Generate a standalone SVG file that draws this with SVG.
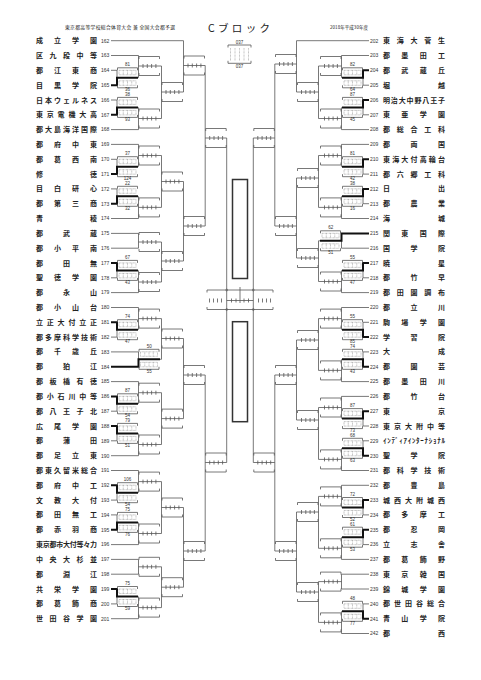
<svg xmlns="http://www.w3.org/2000/svg" xmlns:xlink="http://www.w3.org/1999/xlink" width="481" height="680" viewBox="0 0 481 680">
<defs>
<style>
.ln{fill:none;stroke:#555;stroke-width:.8}
.th{fill:none;stroke:#111;stroke-width:2}
.dt{fill:none;stroke:#777;stroke-width:.5;stroke-dasharray:.8 .6}
.nm{font-family:"Noto Sans CJK JP",sans-serif;font-size:7px;font-weight:bold;fill:#222}
.no{font-family:"Liberation Sans",sans-serif;font-size:5px;fill:#333}
.sc{font-family:"Liberation Sans",sans-serif;font-size:4.5px;fill:#333;text-anchor:middle}
.hd{font-family:"Noto Sans CJK JP",sans-serif;fill:#222}
</style>
<path id="pb" class="ln" d="M0.5,-9.5H21M0.5,-9.5v2.5M21,-9.5v2.5M0.5,9.5H21M0.5,9.5v-2.5M21,9.5v-2.5M4.5,-2v4M8.8,-2v4M13.1,-2v4M17.4,-2v4"/>
<g id="sb"><path class="ln" d="M0.5,-10H20.5M0.5,-10v2.5M20.5,-10v2.5M0.5,10H20.5M0.5,10v-2.5M20.5,10v-2.5"/><path class="dt" d="M2,-7.5H19V-3H2ZM6.25,-7.5V-3M10.5,-7.5V-3M14.75,-7.5V-3M2,3H19V7.5H2ZM6.25,3V7.5M10.5,3V7.5M14.75,3V7.5"/></g>
</defs>
<rect width="481" height="680" fill="#fff"/>

<g id="header">
<text class="hd" x="65" y="29" font-size="4.8" textLength="110">東京都高等学校総合体育大会 兼 全国大会都予選</text>
<text class="hd" x="208" y="31.5" font-size="10.5" textLength="62">Cブロック</text>
<text class="hd" x="330" y="29" font-size="4.5" textLength="38">2018年平成30年度</text>
</g>

<g id="legend">
<path class="ln" d="M228,45H251M228,45v2.5M251,45v2.5M228,63.3H251M228,63.3v-2.5M251,63.3v-2.5"/>
<path class="dt" d="M230.5,48V61M235,48V61M239.5,48V61M244,48V61M248.5,48V61"/>
<text class="sc" x="239.5" y="43.5" font-size="3.5">037</text>
<text class="sc" x="239.5" y="67.5" font-size="3.5">037</text>
</g>

<g id="center">
<rect x="232.5" y="179.5" width="15" height="99" fill="none" stroke="#333" stroke-width="1.5"/>
<rect x="232.5" y="321.7" width="15" height="100" fill="none" stroke="#333" stroke-width="1.5"/>
<path class="ln" d="M207,290H273M207,290v2.5M273,290v2.5M207,309.5H273M207,309.5v-2.5M273,309.5v-2.5M209.5,298.5v4M213.5,298.5v4M217.5,298.5v4M221.5,298.5v4M258.5,298.5v4M262.5,298.5v4M266.5,298.5v4M270.5,298.5v4M231.5,298.5v4M236,298.5v4M244,298.5v4M248.5,298.5v4M240,287V303"/>
<g fill="none" stroke="#555" stroke-width=".6"><circle cx="226.7" cy="290" r="1"/><circle cx="226.7" cy="309.5" r="1"/><circle cx="253.3" cy="290" r="1"/><circle cx="253.3" cy="309.5" r="1"/></g>
</g>

<g id="connectors">
<path class="ln" d="M111,40.7H183.5M111,55.5H138.5M111,70.3H117M111,100H117M111,129.6H138.5M111,144.4H138.5M111,159.3H117M111,188.9H117M111,218.5H138.5M111,233.4H138.5M111,248.2H138.5M111,277.8H117M111,292.6H138.5M111,307.5H138.5M111,337.1H117M111,351.9H138.5M111,381.6H138.5M111,411.2H117M111,440.8H117M111,455.7H138.5M111,470.5H138.5M111,500.1H117M111,514.9H117M111,544.6H138.5M111,559.4H138.5M111,574.2H138.5M111,603.9H117M111,618.7H138.5"/>
<path class="ln" d="M117,70.3V85.2M117,100V114.8M117,159.3V174.1M117,188.9V203.7M117,263V277.8M117,322.3V337.1M117,396.4V411.2M117,426V440.8M117,485.3V500.1M117,514.9V529.8M117,589V603.9"/>
<path class="ln" d="M138.5,55.5V77.8M138.5,66H161.5M138.5,107.4V129.6M138.5,118.5H161.5M138.5,144.4V166.7M138.5,155.5H161.5M138.5,196.3V218.5M138.5,207.4H161.5M138.5,233.4V248.2M138.5,242H161.5M138.5,270.4V292.6M138.5,282H161.5M138.5,307.5V329.7M138.5,318.6H161.5M138.5,351.9V366.7M160,359.3H161.5M138.5,381.6V403.8M138.5,392.7H161.5M138.5,433.4V455.7M138.5,444.5H161.5M138.5,470.5V492.7M138.5,481.6H161.5M138.5,522.4V544.6M138.5,533.5H161.5M138.5,559.4V574.2M138.5,566.8H161.5M138.5,596.5V618.7M138.5,607.6H161.5"/>
<path class="ln" d="M161.5,66V118.5M161.5,92H183.5M161.5,155.5V207.4M161.5,181.5H183.5M161.5,242V282M161.5,261H183.5M161.5,318.6V359.3M161.5,338.5H183.5M161.5,392.7V444.5M161.5,418.6H183.5M161.5,481.6V533.5M161.5,507.5H183.5M161.5,566.8V607.6M161.5,587.2H183.5"/>
<path class="ln" d="M183.5,40.7V92M183.5,65.5H205.2M183.5,181.5V261M183.5,226H205.2M183.5,338.5V418.6M183.5,375H205.2M183.5,507.5V587.2M183.5,551H205.2M205.2,65.5V226M205.2,138H226.7M205.2,375V551M205.2,462.5H226.7"/>
<path class="ln" d="M226.7,138V462.5M253.3,138V462.5M226.7,300.5H253.3"/>
<path class="th" d="M111,85.2H117V77.8H138M111,114.8H117V107.4H138M111,174.1H117V166.7H138M111,203.7H117V196.3H138M111,263H117V270.4H138M111,322.3H117V329.7H138M111,396.4H117V403.8H138M111,426H117V433.4H138M111,485.3H117V492.7H138M111,529.8H117V522.4H138M111,589H117V596.5H138M111,366.7H138.5V359.3H160"/>

<path class="ln" d="M369,40.7H296.5M369,55.5H341.5M369,85.2H363M369,114.8H363M369,129.6H341.5M369,144.4H341.5M369,174.1H363M369,203.7H363M369,218.5H341.5M369,248.2H341.5M369,277.8H363M369,292.6H341.5M369,307.5H341.5M369,322.3H363M369,351.9H363M369,381.6H341.5M369,396.4H341.5M369,426H363M369,440.8H363M369,470.5H341.5M369,485.3H341.5M369,514.9H363M369,544.6H363M369,559.4H341.5M369,574.2H341.5M369,589H341.5M369,603.9H363M369,633.5H341.5"/>
<path class="ln" d="M363,70.3V85.2M363,100V114.8M363,159.3V174.1M363,188.9V203.7M363,263V277.8M363,322.3V337.1M363,351.9V366.7M363,411.2V426M363,440.8V455.7M363,500.1V514.9M363,529.8V544.6M363,603.9V618.7"/>
<path class="ln" d="M341.5,55.5V77.8M341.5,66H318.5M341.5,107.4V129.6M341.5,118.5H318.5M341.5,144.4V166.7M341.5,155.5H318.5M341.5,196.3V218.5M341.5,207.4H318.5M341.5,233.4V248.2M320,240.8H318.5M341.5,270.4V292.6M341.5,281.5H318.5M341.5,307.5V329.7M341.5,318.6H318.5M341.5,359.3V381.6M341.5,370.4H318.5M341.5,396.4V418.6M341.5,407.5H318.5M341.5,448.3V470.5M341.5,459.4H318.5M341.5,485.3V507.5M341.5,496.4H318.5M341.5,537.2V559.4M341.5,548.3H318.5M341.5,574.2V589M341.5,581.6H318.5M341.5,611.3V633.5M341.5,622.4H318.5"/>
<path class="ln" d="M318.5,66V118.5M318.5,92H296.5M318.5,155.5V207.4M318.5,178H296.5M318.5,240.8V281.5M318.5,258H296.5M318.5,318.6V370.4M318.5,340H296.5M318.5,407.5V459.4M318.5,420H296.5M318.5,496.4V548.3M318.5,512H296.5M318.5,581.6V622.4M318.5,592H296.5"/>
<path class="ln" d="M296.5,40.7V92M296.5,64H274.8M296.5,178V258M296.5,226H274.8M296.5,340V420M296.5,375H274.8M296.5,512V592M296.5,551H274.8M274.8,64V226M274.8,138H253.3M274.8,375V551M274.8,462.5H253.3"/>
<path class="th" d="M369,70.3H363V77.8H342M369,100H363V107.4H342M369,159.3H363V166.7H342M369,188.9H363V196.3H342M369,263H363V270.4H342M369,337.1H363V329.7H342M369,366.7H363V359.3H342M369,411.2H363V418.6H342M369,455.7H363V448.3H342M369,500.1H363V507.5H342M369,529.8H363V537.2H342M369,618.7H363V611.3H342M369,233.4H341.5V240.8H320"/>
</g>

<g id="boxes">
<use xlink:href="#pb" x="138.5" y="66"/><use xlink:href="#pb" x="138.5" y="118.5"/><use xlink:href="#pb" x="138.5" y="155.5"/><use xlink:href="#pb" x="138.5" y="207.4"/><use xlink:href="#pb" x="138.5" y="242"/><use xlink:href="#pb" x="138.5" y="282"/><use xlink:href="#pb" x="138.5" y="318.6"/><use xlink:href="#pb" x="138.5" y="392.7"/><use xlink:href="#pb" x="138.5" y="444.5"/><use xlink:href="#pb" x="138.5" y="481.6"/><use xlink:href="#pb" x="138.5" y="533.5"/><use xlink:href="#pb" x="138.5" y="566.8"/><use xlink:href="#pb" x="138.5" y="607.6"/>
<use xlink:href="#pb" x="161.5" y="92"/><use xlink:href="#pb" x="161.5" y="181.5"/><use xlink:href="#pb" x="161.5" y="261"/><use xlink:href="#pb" x="161.5" y="338.5"/><use xlink:href="#pb" x="161.5" y="418.6"/><use xlink:href="#pb" x="161.5" y="507.5"/><use xlink:href="#pb" x="161.5" y="587.2"/>
<use xlink:href="#pb" x="183.5" y="65.5"/><use xlink:href="#pb" x="183.5" y="226"/><use xlink:href="#pb" x="183.5" y="375"/><use xlink:href="#pb" x="183.5" y="551"/>
<use xlink:href="#pb" x="205.2" y="138"/><use xlink:href="#pb" x="205.2" y="462.5"/>
<use xlink:href="#sb" x="117" y="77.8"/><use xlink:href="#sb" x="117" y="107.4"/><use xlink:href="#sb" x="117" y="166.7"/><use xlink:href="#sb" x="117" y="196.3"/><use xlink:href="#sb" x="117" y="270.4"/><use xlink:href="#sb" x="117" y="329.7"/><use xlink:href="#sb" x="117" y="403.8"/><use xlink:href="#sb" x="117" y="433.4"/><use xlink:href="#sb" x="117" y="492.7"/><use xlink:href="#sb" x="117" y="522.4"/><use xlink:href="#sb" x="117" y="596.5"/><use xlink:href="#sb" x="138.5" y="359.3"/>

<use xlink:href="#pb" x="320" y="66"/><use xlink:href="#pb" x="320" y="118.5"/><use xlink:href="#pb" x="320" y="155.5"/><use xlink:href="#pb" x="320" y="207.4"/><use xlink:href="#pb" x="320" y="281.5"/><use xlink:href="#pb" x="320" y="318.6"/><use xlink:href="#pb" x="320" y="370.4"/><use xlink:href="#pb" x="320" y="407.5"/><use xlink:href="#pb" x="320" y="459.4"/><use xlink:href="#pb" x="320" y="496.4"/><use xlink:href="#pb" x="320" y="548.3"/><use xlink:href="#pb" x="320" y="581.6"/><use xlink:href="#pb" x="320" y="622.4"/>
<use xlink:href="#pb" x="297" y="92"/><use xlink:href="#pb" x="297" y="178"/><use xlink:href="#pb" x="297" y="258"/><use xlink:href="#pb" x="297" y="340"/><use xlink:href="#pb" x="297" y="420"/><use xlink:href="#pb" x="297" y="512"/><use xlink:href="#pb" x="297" y="592"/>
<use xlink:href="#pb" x="275" y="64"/><use xlink:href="#pb" x="275" y="226"/><use xlink:href="#pb" x="275" y="375"/><use xlink:href="#pb" x="275" y="551"/>
<use xlink:href="#pb" x="253.3" y="138"/><use xlink:href="#pb" x="253.3" y="462.5"/>
<use xlink:href="#sb" x="342" y="77.8"/><use xlink:href="#sb" x="342" y="107.4"/><use xlink:href="#sb" x="342" y="166.7"/><use xlink:href="#sb" x="342" y="196.3"/><use xlink:href="#sb" x="342" y="270.4"/><use xlink:href="#sb" x="342" y="329.7"/><use xlink:href="#sb" x="342" y="359.3"/><use xlink:href="#sb" x="342" y="418.6"/><use xlink:href="#sb" x="342" y="448.3"/><use xlink:href="#sb" x="342" y="507.5"/><use xlink:href="#sb" x="342" y="537.2"/><use xlink:href="#sb" x="342" y="611.3"/><use xlink:href="#sb" x="320" y="240.8"/>
</g>

<g id="scores">
<text class="sc" x="127.5" y="66.3">81</text><text class="sc" x="127.5" y="91.3">36</text>
<text class="sc" x="127.5" y="95.9">38</text><text class="sc" x="127.5" y="120.9">93</text>
<text class="sc" x="127.5" y="155.2">37</text><text class="sc" x="127.5" y="180.2">124</text>
<text class="sc" x="127.5" y="184.8">22</text><text class="sc" x="127.5" y="209.8">32</text>
<text class="sc" x="127.5" y="258.9">67</text><text class="sc" x="127.5" y="283.9">43</text>
<text class="sc" x="127.5" y="318.2">74</text><text class="sc" x="127.5" y="343.2">47</text>
<text class="sc" x="149.2" y="347.8">50</text><text class="sc" x="149.2" y="372.8">55</text>
<text class="sc" x="127.5" y="392.3">87</text><text class="sc" x="127.5" y="417.3">54</text>
<text class="sc" x="127.5" y="421.9">79</text><text class="sc" x="127.5" y="446.9">51</text>
<text class="sc" x="127.5" y="481.2">106</text><text class="sc" x="127.5" y="506.2">54</text>
<text class="sc" x="127.5" y="510.9">75</text><text class="sc" x="127.5" y="535.9">76</text>
<text class="sc" x="127.5" y="585">75</text><text class="sc" x="127.5" y="610">59</text>
<text class="sc" x="352.5" y="66.3">82</text><text class="sc" x="352.5" y="91.3">64</text>
<text class="sc" x="352.5" y="95.9">87</text><text class="sc" x="352.5" y="120.9">45</text>
<text class="sc" x="352.5" y="155.2">81</text><text class="sc" x="352.5" y="180.2">42</text>
<text class="sc" x="352.5" y="184.8">38</text><text class="sc" x="352.5" y="209.8">16</text>
<text class="sc" x="330.7" y="229.3">62</text><text class="sc" x="330.7" y="254.3">51</text>
<text class="sc" x="352.5" y="258.9">55</text><text class="sc" x="352.5" y="283.9">47</text>
<text class="sc" x="352.5" y="318.2">55</text><text class="sc" x="352.5" y="343.2">85</text>
<text class="sc" x="352.5" y="347.8">74</text><text class="sc" x="352.5" y="372.8">43</text>
<text class="sc" x="352.5" y="407.1">87</text><text class="sc" x="352.5" y="432.1">73</text>
<text class="sc" x="352.5" y="436.8">68</text><text class="sc" x="352.5" y="461.8">63</text>
<text class="sc" x="352.5" y="496">72</text><text class="sc" x="352.5" y="521">52</text>
<text class="sc" x="352.5" y="525.7">61</text><text class="sc" x="352.5" y="550.7">53</text>
<text class="sc" x="352.5" y="599.8">48</text><text class="sc" x="352.5" y="624.8">77</text>
</g>

<g id="left-teams">
<g id="t162" transform="translate(0,40.7)"><text class="nm" x="36" y="2.5" textLength="61">成立学園</text><text class="no" x="101" y="1.8">162</text></g>
<g id="t163" transform="translate(0,55.5)"><text class="nm" x="36" y="2.5" textLength="61">区九段中等</text><text class="no" x="101" y="1.8">163</text></g>
<g id="t164" transform="translate(0,70.3)"><text class="nm" x="36" y="2.5" textLength="61">都江東商</text><text class="no" x="101" y="1.8">164</text></g>
<g id="t165" transform="translate(0,85.2)"><text class="nm" x="36" y="2.5" textLength="61">目黒学院</text><text class="no" x="101" y="1.8">165</text></g>
<g id="t166" transform="translate(0,100)"><text class="nm" x="36" y="2.5" textLength="61">日本ウェルネス</text><text class="no" x="101" y="1.8">166</text></g>
<g id="t167" transform="translate(0,114.8)"><text class="nm" x="36" y="2.5" textLength="61">東京電機大高</text><text class="no" x="101" y="1.8">167</text></g>
<g id="t168" transform="translate(0,129.6)"><text class="nm" x="36" y="2.5" textLength="61">都大島海洋国際</text><text class="no" x="101" y="1.8">168</text></g>
<g id="t169" transform="translate(0,144.4)"><text class="nm" x="36" y="2.5" textLength="61">都府中東</text><text class="no" x="101" y="1.8">169</text></g>
<g id="t170" transform="translate(0,159.3)"><text class="nm" x="36" y="2.5" textLength="61">都葛西南</text><text class="no" x="101" y="1.8">170</text></g>
<g id="t171" transform="translate(0,174.1)"><text class="nm" x="36" y="2.5" textLength="61">修徳</text><text class="no" x="101" y="1.8">171</text></g>
<g id="t172" transform="translate(0,188.9)"><text class="nm" x="36" y="2.5" textLength="61">目白研心</text><text class="no" x="101" y="1.8">172</text></g>
<g id="t173" transform="translate(0,203.7)"><text class="nm" x="36" y="2.5" textLength="61">都第三商</text><text class="no" x="101" y="1.8">173</text></g>
<g id="t174" transform="translate(0,218.5)"><text class="nm" x="36" y="2.5" textLength="61">青稜</text><text class="no" x="101" y="1.8">174</text></g>
<g id="t175" transform="translate(0,233.4)"><text class="nm" x="36" y="2.5" textLength="61">都武蔵</text><text class="no" x="101" y="1.8">175</text></g>
<g id="t176" transform="translate(0,248.2)"><text class="nm" x="36" y="2.5" textLength="61">都小平南</text><text class="no" x="101" y="1.8">176</text></g>
<g id="t177" transform="translate(0,263)"><text class="nm" x="36" y="2.5" textLength="61">都田無</text><text class="no" x="101" y="1.8">177</text></g>
<g id="t178" transform="translate(0,277.8)"><text class="nm" x="36" y="2.5" textLength="61">聖徳学園</text><text class="no" x="101" y="1.8">178</text></g>
<g id="t179" transform="translate(0,292.6)"><text class="nm" x="36" y="2.5" textLength="61">都永山</text><text class="no" x="101" y="1.8">179</text></g>
<g id="t180" transform="translate(0,307.5)"><text class="nm" x="36" y="2.5" textLength="61">都小山台</text><text class="no" x="101" y="1.8">180</text></g>
<g id="t181" transform="translate(0,322.3)"><text class="nm" x="36" y="2.5" textLength="61">立正大付立正</text><text class="no" x="101" y="1.8">181</text></g>
<g id="t182" transform="translate(0,337.1)"><text class="nm" x="36" y="2.5" textLength="61">都多摩科学技術</text><text class="no" x="101" y="1.8">182</text></g>
<g id="t183" transform="translate(0,351.9)"><text class="nm" x="36" y="2.5" textLength="61">都千歳丘</text><text class="no" x="101" y="1.8">183</text></g>
<g id="t184" transform="translate(0,366.7)"><text class="nm" x="36" y="2.5" textLength="61">都狛江</text><text class="no" x="101" y="1.8">184</text></g>
<g id="t185" transform="translate(0,381.6)"><text class="nm" x="36" y="2.5" textLength="61">都板橋有徳</text><text class="no" x="101" y="1.8">185</text></g>
<g id="t186" transform="translate(0,396.4)"><text class="nm" x="36" y="2.5" textLength="61">都小石川中等</text><text class="no" x="101" y="1.8">186</text></g>
<g id="t187" transform="translate(0,411.2)"><text class="nm" x="36" y="2.5" textLength="61">都八王子北</text><text class="no" x="101" y="1.8">187</text></g>
<g id="t188" transform="translate(0,426)"><text class="nm" x="36" y="2.5" textLength="61">広尾学園</text><text class="no" x="101" y="1.8">188</text></g>
<g id="t189" transform="translate(0,440.8)"><text class="nm" x="36" y="2.5" textLength="61">都蒲田</text><text class="no" x="101" y="1.8">189</text></g>
<g id="t190" transform="translate(0,455.7)"><text class="nm" x="36" y="2.5" textLength="61">都足立東</text><text class="no" x="101" y="1.8">190</text></g>
<g id="t191" transform="translate(0,470.5)"><text class="nm" x="36" y="2.5" textLength="61">都東久留米総合</text><text class="no" x="101" y="1.8">191</text></g>
<g id="t192" transform="translate(0,485.3)"><text class="nm" x="36" y="2.5" textLength="61">都府中工</text><text class="no" x="101" y="1.8">192</text></g>
<g id="t193" transform="translate(0,500.1)"><text class="nm" x="36" y="2.5" textLength="61">文教大付</text><text class="no" x="101" y="1.8">193</text></g>
<g id="t194" transform="translate(0,514.9)"><text class="nm" x="36" y="2.5" textLength="61">都田無工</text><text class="no" x="101" y="1.8">194</text></g>
<g id="t195" transform="translate(0,529.8)"><text class="nm" x="36" y="2.5" textLength="61">都赤羽商</text><text class="no" x="101" y="1.8">195</text></g>
<g id="t196" transform="translate(0,544.6)"><text class="nm" x="36" y="2.5" textLength="61">東京都市大付等々力</text><text class="no" x="101" y="1.8">196</text></g>
<g id="t197" transform="translate(0,559.4)"><text class="nm" x="36" y="2.5" textLength="61">中央大杉並</text><text class="no" x="101" y="1.8">197</text></g>
<g id="t198" transform="translate(0,574.2)"><text class="nm" x="36" y="2.5" textLength="61">都淵江</text><text class="no" x="101" y="1.8">198</text></g>
<g id="t199" transform="translate(0,589)"><text class="nm" x="36" y="2.5" textLength="61">共栄学園</text><text class="no" x="101" y="1.8">199</text></g>
<g id="t200" transform="translate(0,603.9)"><text class="nm" x="36" y="2.5" textLength="61">都葛飾商</text><text class="no" x="101" y="1.8">200</text></g>
<g id="t201" transform="translate(0,618.7)"><text class="nm" x="36" y="2.5" textLength="61">世田谷学園</text><text class="no" x="101" y="1.8">201</text></g>
</g>

<g id="right-teams">
<g id="t202" transform="translate(0,40.7)"><text class="no" x="370" y="1.8">202</text><text class="nm" x="383" y="2.5" textLength="62">東海大菅生</text></g>
<g id="t203" transform="translate(0,55.5)"><text class="no" x="370" y="1.8">203</text><text class="nm" x="383" y="2.5" textLength="62">都墨田工</text></g>
<g id="t204" transform="translate(0,70.3)"><text class="no" x="370" y="1.8">204</text><text class="nm" x="383" y="2.5" textLength="62">都武蔵丘</text></g>
<g id="t205" transform="translate(0,85.2)"><text class="no" x="370" y="1.8">205</text><text class="nm" x="383" y="2.5" textLength="62">堀越</text></g>
<g id="t206" transform="translate(0,100)"><text class="no" x="370" y="1.8">206</text><text class="nm" x="383" y="2.5" textLength="62">明治大中野八王子</text></g>
<g id="t207" transform="translate(0,114.8)"><text class="no" x="370" y="1.8">207</text><text class="nm" x="383" y="2.5" textLength="62">東亜学園</text></g>
<g id="t208" transform="translate(0,129.6)"><text class="no" x="370" y="1.8">208</text><text class="nm" x="383" y="2.5" textLength="62">都総合工科</text></g>
<g id="t209" transform="translate(0,144.4)"><text class="no" x="370" y="1.8">209</text><text class="nm" x="383" y="2.5" textLength="62">都両国</text></g>
<g id="t210" transform="translate(0,159.3)"><text class="no" x="370" y="1.8">210</text><text class="nm" x="383" y="2.5" textLength="62">東海大付高輪台</text></g>
<g id="t211" transform="translate(0,174.1)"><text class="no" x="370" y="1.8">211</text><text class="nm" x="383" y="2.5" textLength="62">都六郷工科</text></g>
<g id="t212" transform="translate(0,188.9)"><text class="no" x="370" y="1.8">212</text><text class="nm" x="383" y="2.5" textLength="62">日出</text></g>
<g id="t213" transform="translate(0,203.7)"><text class="no" x="370" y="1.8">213</text><text class="nm" x="383" y="2.5" textLength="62">都農業</text></g>
<g id="t214" transform="translate(0,218.5)"><text class="no" x="370" y="1.8">214</text><text class="nm" x="383" y="2.5" textLength="62">海城</text></g>
<g id="t215" transform="translate(0,233.4)"><text class="no" x="370" y="1.8">215</text><text class="nm" x="383" y="2.5" textLength="62">関東国際</text></g>
<g id="t216" transform="translate(0,248.2)"><text class="no" x="370" y="1.8">216</text><text class="nm" x="383" y="2.5" textLength="62">国学院</text></g>
<g id="t217" transform="translate(0,263)"><text class="no" x="370" y="1.8">217</text><text class="nm" x="383" y="2.5" textLength="62">暁星</text></g>
<g id="t218" transform="translate(0,277.8)"><text class="no" x="370" y="1.8">218</text><text class="nm" x="383" y="2.5" textLength="62">都竹早</text></g>
<g id="t219" transform="translate(0,292.6)"><text class="no" x="370" y="1.8">219</text><text class="nm" x="383" y="2.5" textLength="62">都田園調布</text></g>
<g id="t220" transform="translate(0,307.5)"><text class="no" x="370" y="1.8">220</text><text class="nm" x="383" y="2.5" textLength="62">都立川</text></g>
<g id="t221" transform="translate(0,322.3)"><text class="no" x="370" y="1.8">221</text><text class="nm" x="383" y="2.5" textLength="62">駒場学園</text></g>
<g id="t222" transform="translate(0,337.1)"><text class="no" x="370" y="1.8">222</text><text class="nm" x="383" y="2.5" textLength="62">学習院</text></g>
<g id="t223" transform="translate(0,351.9)"><text class="no" x="370" y="1.8">223</text><text class="nm" x="383" y="2.5" textLength="62">大成</text></g>
<g id="t224" transform="translate(0,366.7)"><text class="no" x="370" y="1.8">224</text><text class="nm" x="383" y="2.5" textLength="62">都園芸</text></g>
<g id="t225" transform="translate(0,381.6)"><text class="no" x="370" y="1.8">225</text><text class="nm" x="383" y="2.5" textLength="62">都墨田川</text></g>
<g id="t226" transform="translate(0,396.4)"><text class="no" x="370" y="1.8">226</text><text class="nm" x="383" y="2.5" textLength="62">都竹台</text></g>
<g id="t227" transform="translate(0,411.2)"><text class="no" x="370" y="1.8">227</text><text class="nm" x="383" y="2.5" textLength="62">東京</text></g>
<g id="t228" transform="translate(0,426)"><text class="no" x="370" y="1.8">228</text><text class="nm" x="383" y="2.5" textLength="62">東京大附中等</text></g>
<g id="t229" transform="translate(0,440.8)"><text class="no" x="370" y="1.8">229</text><text class="nm" x="383" y="2.5" textLength="62" font-size="6">ｲﾝﾃﾞｨｱｲﾝﾀｰﾅｼｮﾅﾙ</text></g>
<g id="t230" transform="translate(0,455.7)"><text class="no" x="370" y="1.8">230</text><text class="nm" x="383" y="2.5" textLength="62">聖学院</text></g>
<g id="t231" transform="translate(0,470.5)"><text class="no" x="370" y="1.8">231</text><text class="nm" x="383" y="2.5" textLength="62">都科学技術</text></g>
<g id="t232" transform="translate(0,485.3)"><text class="no" x="370" y="1.8">232</text><text class="nm" x="383" y="2.5" textLength="62">都豊島</text></g>
<g id="t233" transform="translate(0,500.1)"><text class="no" x="370" y="1.8">233</text><text class="nm" x="383" y="2.5" textLength="62">城西大附城西</text></g>
<g id="t234" transform="translate(0,514.9)"><text class="no" x="370" y="1.8">234</text><text class="nm" x="383" y="2.5" textLength="62">都多摩工</text></g>
<g id="t235" transform="translate(0,529.8)"><text class="no" x="370" y="1.8">235</text><text class="nm" x="383" y="2.5" textLength="62">都忍岡</text></g>
<g id="t236" transform="translate(0,544.6)"><text class="no" x="370" y="1.8">236</text><text class="nm" x="383" y="2.5" textLength="62">立志舎</text></g>
<g id="t237" transform="translate(0,559.4)"><text class="no" x="370" y="1.8">237</text><text class="nm" x="383" y="2.5" textLength="62">都葛飾野</text></g>
<g id="t238" transform="translate(0,574.2)"><text class="no" x="370" y="1.8">238</text><text class="nm" x="383" y="2.5" textLength="62">東京韓国</text></g>
<g id="t239" transform="translate(0,589)"><text class="no" x="370" y="1.8">239</text><text class="nm" x="383" y="2.5" textLength="62">錦城学園</text></g>
<g id="t240" transform="translate(0,603.9)"><text class="no" x="370" y="1.8">240</text><text class="nm" x="383" y="2.5" textLength="62">都世田谷総合</text></g>
<g id="t241" transform="translate(0,618.7)"><text class="no" x="370" y="1.8">241</text><text class="nm" x="383" y="2.5" textLength="62">青山学院</text></g>
<g id="t242" transform="translate(0,633.5)"><text class="no" x="370" y="1.8">242</text><text class="nm" x="383" y="2.5" textLength="62">都西</text></g>
</g>
</svg>
